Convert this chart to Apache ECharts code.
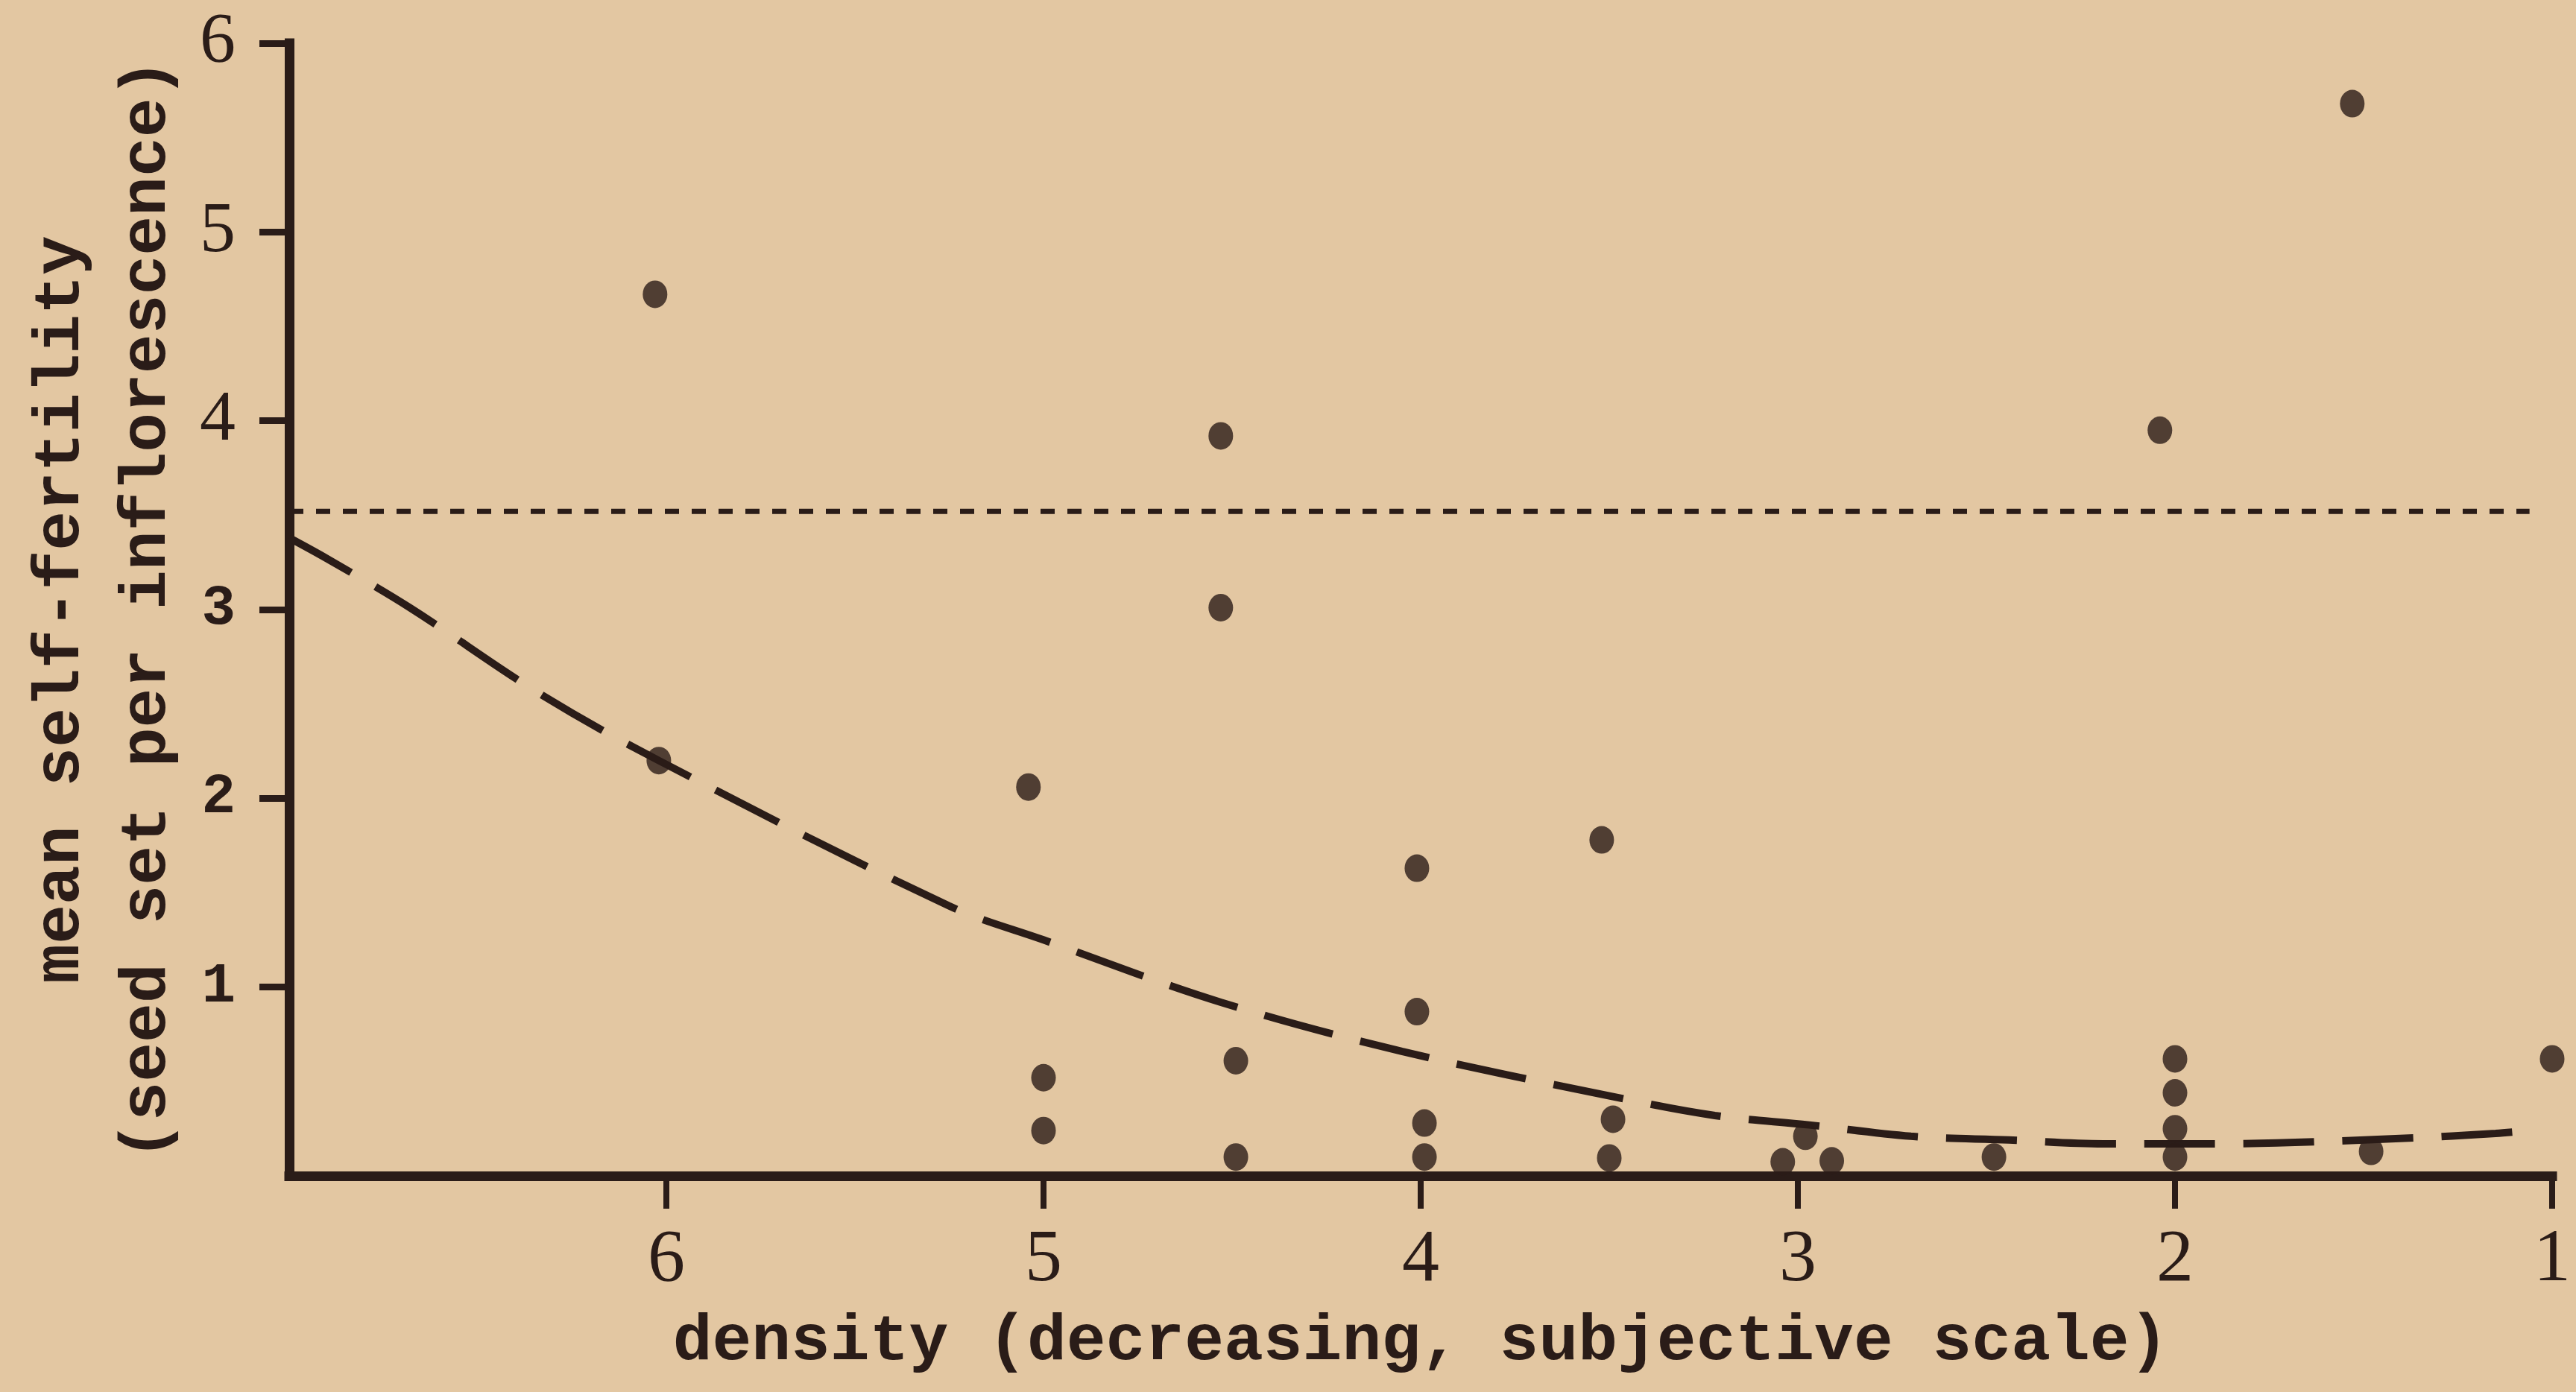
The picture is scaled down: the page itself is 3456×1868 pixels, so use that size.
<!DOCTYPE html>
<html>
<head>
<meta charset="utf-8">
<script src="https://cdn.jsdelivr.net/npm/echarts@6/dist/echarts.min.js"></script>
<style>
html,body{margin:0;padding:0;background:#e3c7a2;}
#chart{width:3456px;height:1868px;}
</style>
</head>
<body>
<div id="chart"></div>
<script>
// Observed points: density (decreasing subjective scale) vs mean self-fertility
const densityX  = [6.03, 6.02, 5.04, 5.00, 5.00, 4.53, 4.53, 4.49, 4.49, 4.01, 4.01, 3.99, 3.99, 3.52, 3.49, 3.50, 2.98, 3.04, 2.91, 2.48, 2.04, 2.00, 2.00, 2.00, 2.00, 1.53, 1.48, 1.00];
const fertility = [4.67, 2.20, 2.06, 0.52, 0.24, 3.92, 3.01, 0.61, 0.10, 1.63, 0.87, 0.28, 0.10, 1.78, 0.30, 0.095, 0.21, 0.075, 0.08, 0.10, 3.95, 0.62, 0.44, 0.25, 0.10, 5.68, 0.13, 0.62];

// Dashed fitted curve
const curveX = [7.00, 6.90, 6.68, 6.34, 6.02, 5.25, 5.00, 4.53, 4.05, 3.49, 3.22, 2.97, 2.70, 2.44, 2.19, 1.89, 1.38, 1.15, 1.06];
const curveY = [3.38, 3.27, 3.01, 2.56, 2.20, 1.43, 1.25, 0.92, 0.66, 0.42, 0.32, 0.27, 0.21, 0.19, 0.17, 0.17, 0.20, 0.225, 0.24];

// Dotted horizontal reference line
const refX = [7.00, 1.06];
const refY = [3.52, 3.52];

// Tick labels
const xTicks = [6, 5, 4, 3, 2, 1];
const yTicks = [1, 2, 3, 4, 5, 6];

const xName = 'density (decreasing, subjective scale)';
const yName = 'mean self-fertility\n(seed set per inflorescence)';

const ink = '#2a1c18';
const zip = (a, b) => a.map((v, i) => [v, b[i]]);

const chart = echarts.init(document.getElementById('chart'), null, {renderer: 'canvas'});
chart.setOption({
  backgroundColor: '#e3c7a2',
  animation: false,
  grid: {left: 388, right: 32, top: 58, bottom: 290},
  xAxis: {
    type: 'value', inverse: true, min: 1, max: 7, interval: 1,
    name: xName, nameLocation: 'middle', nameGap: 180,
    nameTextStyle: {fontFamily: 'Liberation Mono', fontWeight: 'bold', fontSize: 88, color: ink},
    axisLine: {onZero: false, lineStyle: {color: ink, width: 13, cap: 'square'}},
    axisTick: {show: true, length: 44, customValues: xTicks, lineStyle: {color: ink, width: 8}},
    axisLabel: {customValues: xTicks, margin: 64, fontFamily: 'Liberation Serif', fontSize: 100, color: ink},
    splitLine: {show: false}
  },
  yAxis: {
    type: 'value', min: 0, max: 6, interval: 1,
    name: yName, nameLocation: 'middle', nameGap: 110,
    nameTextStyle: {fontFamily: 'Liberation Mono', fontWeight: 'bold', fontSize: 88, lineHeight: 116, color: ink, align: 'center'},
    axisLine: {onZero: false, lineStyle: {color: ink, width: 13, cap: 'square'}},
    axisTick: {show: true, length: 40, customValues: yTicks, lineStyle: {color: ink, width: 9}},
    axisLabel: {
      customValues: yTicks, margin: 72, color: ink,
      formatter: v => (v <= 3 ? '{b|' + v + '}' : '{n|' + v + '}'),
      rich: {
        b: {fontFamily: 'Liberation Mono', fontWeight: 'bold', fontSize: 76, color: ink},
        n: {fontFamily: 'Liberation Serif', fontSize: 96, color: ink}
      }
    },
    splitLine: {show: false}
  },
  series: [
    {
      type: 'line', data: zip(refX, refY), showSymbol: false, silent: true,
      lineStyle: {color: ink, width: 7, type: [19, 17]}, z: 2
    },
    {
      type: 'line', data: zip(curveX, curveY), smooth: 0.35, showSymbol: false, silent: true,
      lineStyle: {color: ink, width: 10, type: [95, 38]}, z: 2
    },
    {
      type: 'scatter', data: zip(densityX, fertility), symbol: 'circle', symbolSize: [33, 37],
      itemStyle: {color: ink}, clip: false, z: 3
    }
  ]
});
</script>
</body>
</html>
